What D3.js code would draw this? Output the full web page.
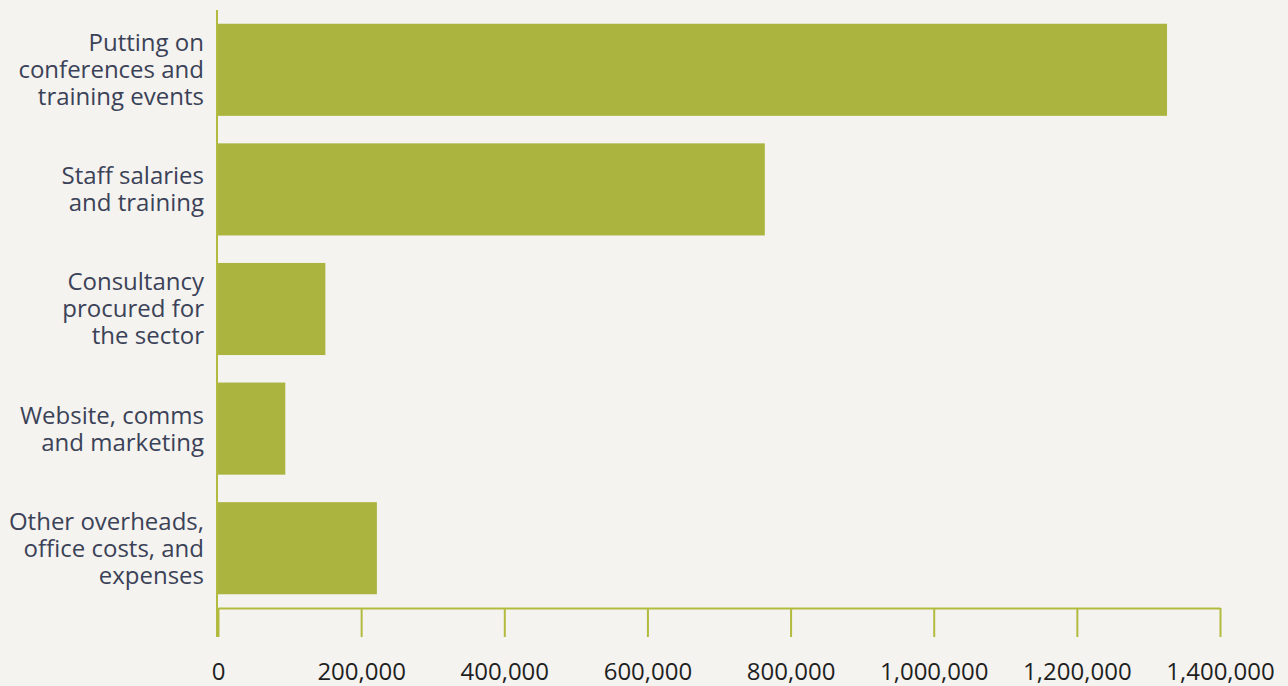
<!DOCTYPE html>
<html>
<head>
<meta charset="utf-8">
<script src="https://cdn.jsdelivr.net/npm/d3@7"></script>
<style>
  html, body { margin: 0; padding: 0; background: #f4f3f0; }
  svg { display: block; font-family: "Open Sans", sans-serif; }
</style>
</head>
<body>
<svg id="chart" width="1288" height="686"></svg>
<script>
const categories = [
  ["Putting on", "conferences and", "training events"],
  ["Staff salaries", "and training"],
  ["Consultancy", "procured for", "the sector"],
  ["Website, comms", "and marketing"],
  ["Other overheads,", "office costs, and", "expenses"]
];
const values = [1326000, 764000, 150000, 94000, 222000];
const tickValues = [0, 200000, 400000, 600000, 800000, 1000000, 1200000, 1400000];

const barColor = "#aab43f";
const axisColor = "#b2bb3e";

const svg = d3.select("#chart");
const x0 = 218, x1 = 1220, yTop = 10, yAxis = 608;

const x = d3.scaleLinear().domain([0, 1400000]).range([x0, x1]);
const y = d3.scaleBand()
  .domain(d3.range(categories.length))
  .range([yTop, yAxis])
  .paddingInner(0.23)
  .paddingOuter(0.115);

svg.selectAll(".bar")
  .data(values)
  .enter()
  .append("rect")
  .attr("class", "bar")
  .attr("x", x(0))
  .attr("y", (d, i) => y(i))
  .attr("width", d => x(d) - x(0))
  .attr("height", y.bandwidth())
  .attr("fill", barColor);

// left axis line
svg.append("line")
  .attr("x1", x(0) - 1).attr("x2", x(0) - 1)
  .attr("y1", yTop).attr("y2", 637)
  .attr("stroke", axisColor).attr("stroke-width", 2);

// bottom axis
const xAxis = svg.append("g")
  .attr("transform", `translate(0,${yAxis})`)
  .call(d3.axisBottom(x).tickValues(tickValues).tickSize(29).tickSizeOuter(0)
    .tickFormat(d3.format(",")));
xAxis.select(".domain").attr("stroke", axisColor).attr("stroke-width", 2);
xAxis.selectAll(".tick line").attr("stroke", axisColor).attr("stroke-width", 2);
xAxis.selectAll(".tick text")
  .attr("y", 55)
  .attr("fill", "#1f1f1f")
  .style("font-size", "24px")
  .style("font-family", "'Open Sans', sans-serif");

// category labels
const lineH = 27;
categories.forEach((lines, i) => {
  const cy = y(i) + y.bandwidth() / 2;
  const t = svg.append("text")
    .attr("text-anchor", "end")
    .attr("fill", "#3b4257")
    .style("font-size", "24px");
  lines.forEach((ln, j) => {
    t.append("tspan")
      .attr("x", 204)
      .attr("y", cy + (j - (lines.length - 1) / 2) * lineH)
      .attr("dy", "0.35em")
      .text(ln);
  });
});
</script>
</body>
</html>
